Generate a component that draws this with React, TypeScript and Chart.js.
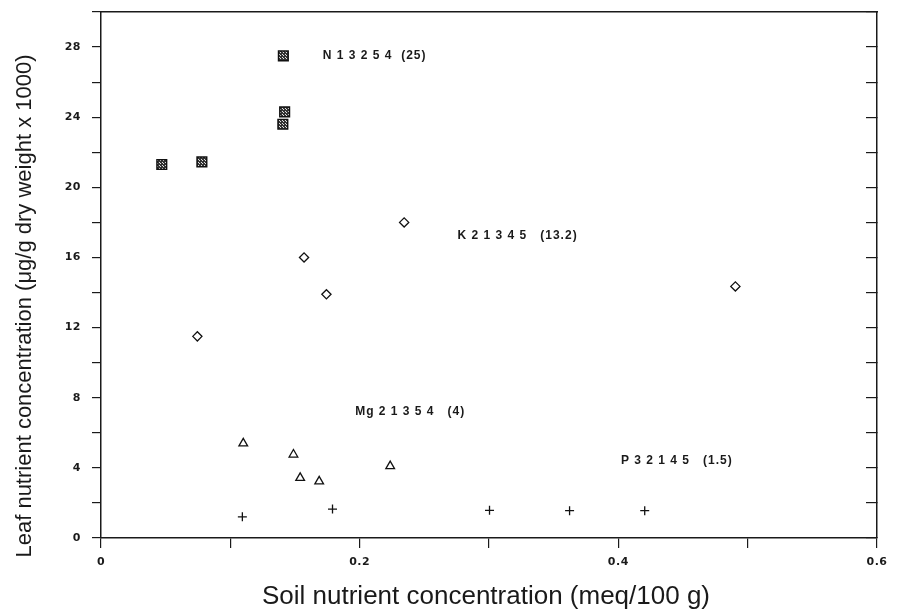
import React, { useEffect, useRef } from 'react';
import { Chart, registerables } from 'chart.js';

Chart.register(...registerables);

// N (hatched squares)
const nX = [0.047, 0.078, 0.1406, 0.142, 0.141];
const nY = [21.3, 21.45, 23.6, 24.3, 27.5];
// K (open diamonds)
const kX = [0.0745, 0.157, 0.1743, 0.2344, 0.4905];
const kY = [11.5, 16.0, 13.9, 18.0, 14.35];
// Mg (open triangles)
const mgX = [0.11, 0.1488, 0.154, 0.1687, 0.2236];
const mgY = [5.4, 4.76, 3.43, 3.23, 4.1];
// P (crosses)
const pX = [0.1093, 0.179, 0.3004, 0.3623, 0.4204];
const pY = [1.21, 1.65, 1.58, 1.56, 1.56];

// Annotation labels (data coordinates of the label's left/middle)
const labelTexts = ['N 1 3 2 5 4  (25)', 'K 2 1 3 4 5   (13.2)', 'Mg 2 1 3 5 4   (4)', 'P 3 2 1 4 5   (1.5)'];
const labelX = [0.1715, 0.2757, 0.1965, 0.402];
const labelY = [27.5, 17.25, 7.2, 4.4];

const xTickLabels = ['0', '0.2', '0.4', '0.6'];
const xTitle = 'Soil nutrient concentration (meq/100 g)';
const yTitle = 'Leaf nutrient concentration (\u03bcg/g dry weight x 1000)';

const FAMILY = '"Liberation Sans", Arial, Helvetica, sans-serif';
const TICK_FAMILY = '"DejaVu Sans", Arial, sans-serif';
const INK = '#1a1a1a';

function toPoints(xs: number[], ys: number[]) {
  return xs.map((x, i) => ({ x, y: ys[i] }));
}

export default function App() {
  const ref = useRef<HTMLCanvasElement | null>(null);

  useEffect(() => {
    const canvas = ref.current;
    if (!canvas) return;

    // hatch pattern for the N squares
    const pc = document.createElement('canvas');
    pc.width = 3;
    pc.height = 3;
    const pctx = pc.getContext('2d')!;
    pctx.fillStyle = '#333';
    pctx.fillRect(0, 0, 3, 3);
    pctx.fillStyle = '#e0e0e0';
    pctx.fillRect(1, 1, 1, 1);
    pctx.fillRect(0, 0, 1, 1);
    const pattern = canvas.getContext('2d')!.createPattern(pc, 'repeat');

    const spacingPlugin = {
      id: 'tickSpacing',
      beforeDraw(chart: any) {
        (chart.ctx as any).letterSpacing = '0.5px';
      },
    };

    const labelPlugin = {
      id: 'labels',
      afterDatasetsDraw(chart: any) {
        const ctx = chart.ctx as CanvasRenderingContext2D;
        const xs = chart.scales.x;
        const ys = chart.scales.y;
        ctx.save();
        ctx.fillStyle = INK;
        ctx.font = 'bold 12px ' + FAMILY;
        (ctx as any).letterSpacing = '1px';
        ctx.textAlign = 'left';
        ctx.textBaseline = 'middle';
        labelTexts.forEach((t, i) => {
          ctx.fillText(t, xs.getPixelForValue(labelX[i]), ys.getPixelForValue(labelY[i]));
        });
        ctx.restore();

        const area = chart.chartArea;
        // y-axis title
        ctx.save();
        (ctx as any).letterSpacing = '0px';
        ctx.fillStyle = INK;
        ctx.font = '22px ' + FAMILY;
        ctx.translate(25, (area.top + area.bottom) / 2 + 31);
        ctx.rotate(-Math.PI / 2);
        ctx.textAlign = 'center';
        ctx.textBaseline = 'middle';
        ctx.fillText(yTitle, 0, 0);
        ctx.restore();

        // x-axis title
        ctx.save();
        (ctx as any).letterSpacing = '0px';
        ctx.fillStyle = INK;
        ctx.font = '26px ' + FAMILY;
        ctx.textAlign = 'center';
        ctx.textBaseline = 'middle';
        ctx.fillText(xTitle, (area.left + area.right) / 2 - 3, chart.height - 16);
        ctx.restore();
      },
    };

    const axisBorder = { display: true, color: INK, width: 1.5 };
    const tickFont = { family: TICK_FAMILY, size: 11, weight: 'bold' as const };

    const chart = new Chart(canvas, {
      type: 'scatter',
      data: {
        datasets: [
          {
            label: 'N',
            data: toPoints(nX, nY),
            pointStyle: 'rect',
            pointRadius: 6.9,
            backgroundColor: pattern as any,
            borderColor: '#111',
            borderWidth: 1.4,
          },
          {
            label: 'K',
            data: toPoints(kX, kY),
            pointStyle: 'rectRot',
            pointRadius: 4.6,
            backgroundColor: '#fff',
            borderColor: '#111',
            borderWidth: 1.3,
          },
          {
            label: 'Mg',
            data: toPoints(mgX, mgY),
            pointStyle: 'triangle',
            pointRadius: 5,
            backgroundColor: '#fff',
            borderColor: '#111',
            borderWidth: 1.3,
          },
          {
            label: 'P',
            data: toPoints(pX, pY),
            pointStyle: 'cross',
            pointRadius: 4.5,
            backgroundColor: '#111',
            borderColor: '#111',
            borderWidth: 1.3,
          },
        ],
      },
      options: {
        animation: false,
        responsive: false,
        devicePixelRatio: 1,
        layout: { padding: { left: 0, right: 23, top: 12, bottom: 0 } },
        plugins: {
          legend: { display: false },
          tooltip: { enabled: false },
        },
        scales: {
          x: {
            type: 'linear',
            position: 'bottom',
            min: 0,
            max: 0.6,
            ticks: {
              stepSize: 0.1,
              autoSkip: false,
              maxRotation: 0,
              padding: 8,
              color: INK,
              font: tickFont,
              callback: (v: any) => {
                const k = Math.round(Number(v) * 10);
                return k % 2 === 0 ? xTickLabels[k / 2] : '';
              },
            },
            grid: { drawOnChartArea: false, drawTicks: true, tickLength: 10, color: INK, lineWidth: 1.2 },
            border: axisBorder,
            afterFit: (s: any) => {
              s.height = 75;
              s.paddingLeft = 0;
              s.paddingRight = 0;
            },
          },
          x2: {
            type: 'linear',
            position: 'top',
            min: 0,
            max: 0.6,
            ticks: { display: false },
            grid: { display: false },
            border: axisBorder,
            afterFit: (s: any) => {
              s.height = 0;
              s.paddingLeft = 0;
              s.paddingRight = 0;
            },
          },
          y: {
            type: 'linear',
            position: 'left',
            min: 0,
            max: 30,
            ticks: {
              stepSize: 2,
              autoSkip: false,
              padding: 11,
              color: INK,
              font: tickFont,
              callback: (v: any) => (Number(v) % 4 === 0 ? String(v) : ''),
            },
            grid: { drawOnChartArea: false, drawTicks: true, tickLength: 9, color: INK, lineWidth: 1.2 },
            border: axisBorder,
            afterFit: (s: any) => {
              s.width = 101;
              s.paddingTop = 0;
              s.paddingBottom = 0;
            },
          },
          y2: {
            type: 'linear',
            position: 'right',
            min: 0,
            max: 30,
            ticks: { display: false, stepSize: 2, autoSkip: false },
            grid: { drawOnChartArea: false, drawTicks: true, tickLength: -11, color: INK, lineWidth: 1.2 },
            border: axisBorder,
            afterFit: (s: any) => {
              s.width = 0;
              s.paddingTop = 0;
              s.paddingBottom = 0;
            },
          },
        },
      },
      plugins: [spacingPlugin, labelPlugin],
    });

    return () => {
      chart.destroy();
    };
  }, []);

  return (
    <div style={{ position: 'fixed', left: 0, top: 0, width: 900, height: 613, background: '#fff' }}>
      <canvas ref={ref} width={900} height={613} />
    </div>
  );
}
